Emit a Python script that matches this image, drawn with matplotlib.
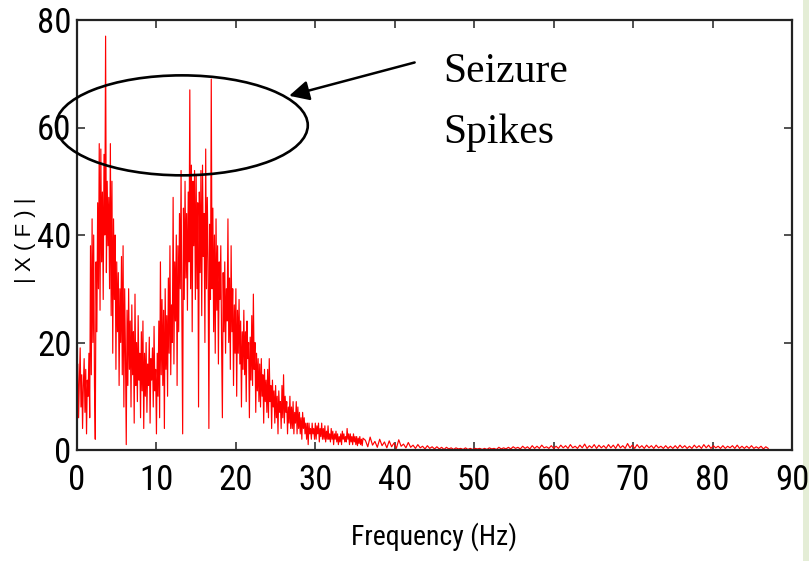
import numpy as np
import matplotlib
matplotlib.use("Agg")
import matplotlib.pyplot as plt
from matplotlib.patches import Ellipse, Rectangle
from matplotlib import font_manager

# ---- data ----
# dense band: 0 .. 36 Hz, one value every 0.1 Hz
low_start, low_step = 0.0, 0.1
mag_low = [
    10, 16, 6, 13, 19, 8, 14, 4, 12, 17,          # 0-1 Hz
    7, 15, 3, 13, 10, 18, 6, 38, 14, 43,          # 1-2
    20, 40, 12, 2, 35, 22, 46, 30, 57, 26,        # 2-3
    56, 35, 48, 28, 55, 40, 77, 33, 50, 38,       # 3-4
    47, 30, 57, 25, 50, 18, 43, 28, 40, 15,       # 4-5
    35, 22, 33, 12, 30, 20, 36, 14, 38, 8,        # 5-6
    30, 18, 1, 26, 12, 30, 15, 24, 8, 27,         # 6-7
    14, 22, 5, 29, 12, 20, 9, 25, 13, 18,         # 7-8
    6, 22, 11, 24, 4, 18, 10, 20, 7, 16,          # 8-9
    12, 21, 5, 17, 13, 19, 8, 23, 11, 15,         # 9-10
    3, 18, 10, 24, 6, 35, 14, 28, 12, 26,         # 10-11
    4, 30, 15, 25, 10, 32, 18, 38, 14, 27,        # 11-12
    20, 47, 16, 35, 24, 40, 12, 38, 22, 44,       # 12-13
    30, 52, 25, 3, 45, 28, 50, 32, 44, 26,        # 13-14
    48, 35, 67, 30, 53, 22, 50, 38, 52, 28,       # 14-15
    51, 30, 46, 8, 48, 33, 52, 25, 53, 36,        # 15-16
    44, 20, 56, 30, 47, 35, 4, 42, 28, 69,        # 16-17
    30, 45, 22, 40, 18, 43, 26, 38, 16, 35,       # 17-18
    28, 38, 20, 6, 33, 22, 35, 18, 30, 24,        # 18-19
    43, 20, 32, 15, 38, 22, 30, 12, 27, 18,       # 19-20
    30, 10, 26, 18, 28, 16, 24, 8, 22, 15,        # 20-21
    26, 14, 22, 9, 24, 17, 20, 6, 21, 13,         # 21-22
    25, 12, 29, 15, 20, 7, 18, 11, 17, 9,         # 22-23
    16, 8, 17, 10, 14, 5, 15, 9, 13, 7,           # 23-24
    15, 6, 17, 9, 12, 4, 13, 8, 11, 5,            # 24-25
    12, 6, 10, 3, 11, 7, 9, 4, 12, 6,             # 25-26
    14, 5, 10, 7, 9, 3, 8, 5, 10, 4,              # 26-27
    8, 4, 9, 3, 7, 5, 9, 3, 8, 4,                 # 27-28
    7, 3, 6, 2, 7, 4, 6, 3, 5, 2,                 # 28-29
    5, 1, 5, 3, 4, 2, 5, 3, 4, 2,                 # 29-30
    5, 2, 4.5, 3, 5, 1.5, 4, 2.5, 5, 2,           # 30-31
    4, 2, 4.5, 1.5, 3.5, 2, 4.5, 2, 3, 1.5,       # 31-32
    4, 2, 3.5, 1, 3, 2, 3.5, 1.5, 3, 1,           # 32-33
    2.5, 1.5, 3, 1, 3.5, 2, 3, 1.5, 2.5, 1.5,     # 33-34
    4, 2, 3, 1, 3, 1.5, 2.5, 1, 3, 1.5,           # 34-35
    2.5, 1, 2.5, 0.8, 2.2, 1.2, 2.5, 1, 2, 0.8,   # 35-36
    2.2,                                          # 36
]

# tail: 36.3 .. 87 Hz, one value every 0.3 Hz
high_start, high_step = 36.3, 0.3
mag_high = [
    1.8, 0.6, 2.4, 0.9, 1.6, 0.5, 2.0, 0.8, 1.5, 0.4,
    1.7, 0.6, 1.3, 0.3, 1.9, 0.7, 1.1, 0.4, 1.4, 0.5,
    0.9, 0.3, 1.0, 0.4, 0.7, 0.2, 0.8, 0.3, 0.6, 0.2,
    0.6, 0.2, 0.5, 0.1, 0.5, 0.2, 0.4, 0.1, 0.4, 0.2,
    0.3, 0.1, 0.4, 0.1, 0.3, 0.1, 0.3, 0.2, 0.3, 0.1,
    0.3, 0.1, 0.4, 0.2, 0.3, 0.1, 0.5, 0.2, 0.4, 0.2,
    0.5, 0.2, 0.6, 0.3, 0.5, 0.2, 0.7, 0.3, 0.6, 0.2,
    0.8, 0.3, 0.7, 0.3, 0.9, 0.4, 0.6, 0.3, 0.8, 0.3,
    0.7, 0.3, 0.9, 0.4, 0.8, 0.3, 1.0, 0.4, 0.7, 0.3,
    0.9, 0.4, 1.1, 0.3, 0.8, 0.4, 1.0, 0.3, 0.9, 0.4,
    0.8, 0.3, 1.0, 0.4, 0.9, 0.3, 1.1, 0.4, 0.8, 0.3,
    1.2, 0.4, 0.9, 0.3, 1.0, 0.4, 0.8, 0.3, 0.9, 0.4,
    0.8, 0.3, 0.9, 0.4, 0.7, 0.3, 0.8, 0.3, 0.7, 0.3,
    0.8, 0.3, 0.9, 0.4, 0.8, 0.3, 0.7, 0.3, 0.9, 0.4,
    0.8, 0.3, 1.0, 0.4, 0.9, 0.3, 0.8, 0.4, 0.7, 0.3,
    0.8, 0.3, 0.7, 0.4, 0.8, 0.3, 0.9, 0.3, 0.7, 0.3,
    0.7, 0.3, 0.8, 0.3, 0.6, 0.3, 0.7, 0.2, 0.6, 0.3,
]

x_ticks = [0, 10, 20, 30, 40, 50, 60, 70, 80, 90]
y_ticks = [0, 20, 40, 60, 80]
x_label = "Frequency (Hz)"
y_label = "| X ( F ) |"
note_lines = ["Seizure", "Spikes"]

# ---- build series ----
f_low = low_start + low_step * np.arange(len(mag_low))
f_high = high_start + high_step * np.arange(len(mag_high))
freq = np.concatenate([f_low, f_high])
mag = np.concatenate([np.array(mag_low, float), np.array(mag_high, float)])

# ---- pick a condensed sans face if one is installed ----
installed = {f.name for f in font_manager.fontManager.ttflist}
cond_candidates = ["Roboto Condensed", "DejaVu Sans Condensed", "Noto Sans Condensed",
                   "Open Sans Condensed", "Liberation Sans Narrow", "Arial Narrow"]
narrow = [n for n in cond_candidates if n in installed] + ["Liberation Sans", "DejaVu Sans"]
cond_found = len(narrow) > 2

# ---- figure ----
fig = plt.figure(figsize=(8.09, 5.61), dpi=100)
fig.patch.set_facecolor("white")
fig.patches.append(Rectangle((803 / 809, 0), 6 / 809, 1, transform=fig.transFigure,
                             facecolor="#e4edd6", edgecolor="none", zorder=-1))

ax = fig.add_axes([77 / 809, 1 - 450 / 561, 715 / 809, 430 / 561])
ax.patch.set_alpha(0)
ax.plot(freq, mag, color="#ff0000", lw=0.85)

ax.set_xlim(0, 90)
ax.set_ylim(0, 80)
ax.set_xticks(x_ticks)
ax.set_yticks(y_ticks)

tsize = 25 if cond_found else 21
ax.set_xticklabels([str(t) for t in x_ticks], family=narrow, fontsize=tsize)
ax.set_yticklabels([str(t) for t in y_ticks], family=narrow, fontsize=tsize)
ax.tick_params(direction="in", length=6, width=1.1, top=True, right=True, colors="#222222")
ax.tick_params(axis="x", pad=10)
ax.tick_params(axis="y", pad=4)
for lab in ax.get_xticklabels() + ax.get_yticklabels():
    lab.set_color("black")
for sp in ax.spines.values():
    sp.set_linewidth(1.6)
    sp.set_color("#222222")

ax.set_xlabel(x_label, family=narrow, fontsize=20 if cond_found else 18, labelpad=18)
fig.text(25 / 809, 1 - 240 / 561, y_label, rotation=90, ha="center", va="center",
         family=["Liberation Sans", "DejaVu Sans"], fontsize=16)

# ellipse around the spikes
ell = Ellipse((13.2, 60.4), 31.7, 18.6, facecolor="none", edgecolor="black",
              lw=1.9, clip_on=False, zorder=5)
ax.add_patch(ell)

# arrow
ax.annotate("", xy=(26.7, 65.9), xytext=(42.5, 72.1),
            arrowprops=dict(arrowstyle="-|>", color="black", lw=1.8,
                            mutation_scale=30, shrinkA=0, shrinkB=0))

serif = ["Liberation Serif", "DejaVu Serif"]
ax.text(46.1, 68.5, note_lines[0], family=serif, fontsize=30, va="baseline", ha="left")
ax.text(46.1, 57.1, note_lines[1], family=serif, fontsize=30, va="baseline", ha="left")

fig.savefig("out.png", dpi=100)
